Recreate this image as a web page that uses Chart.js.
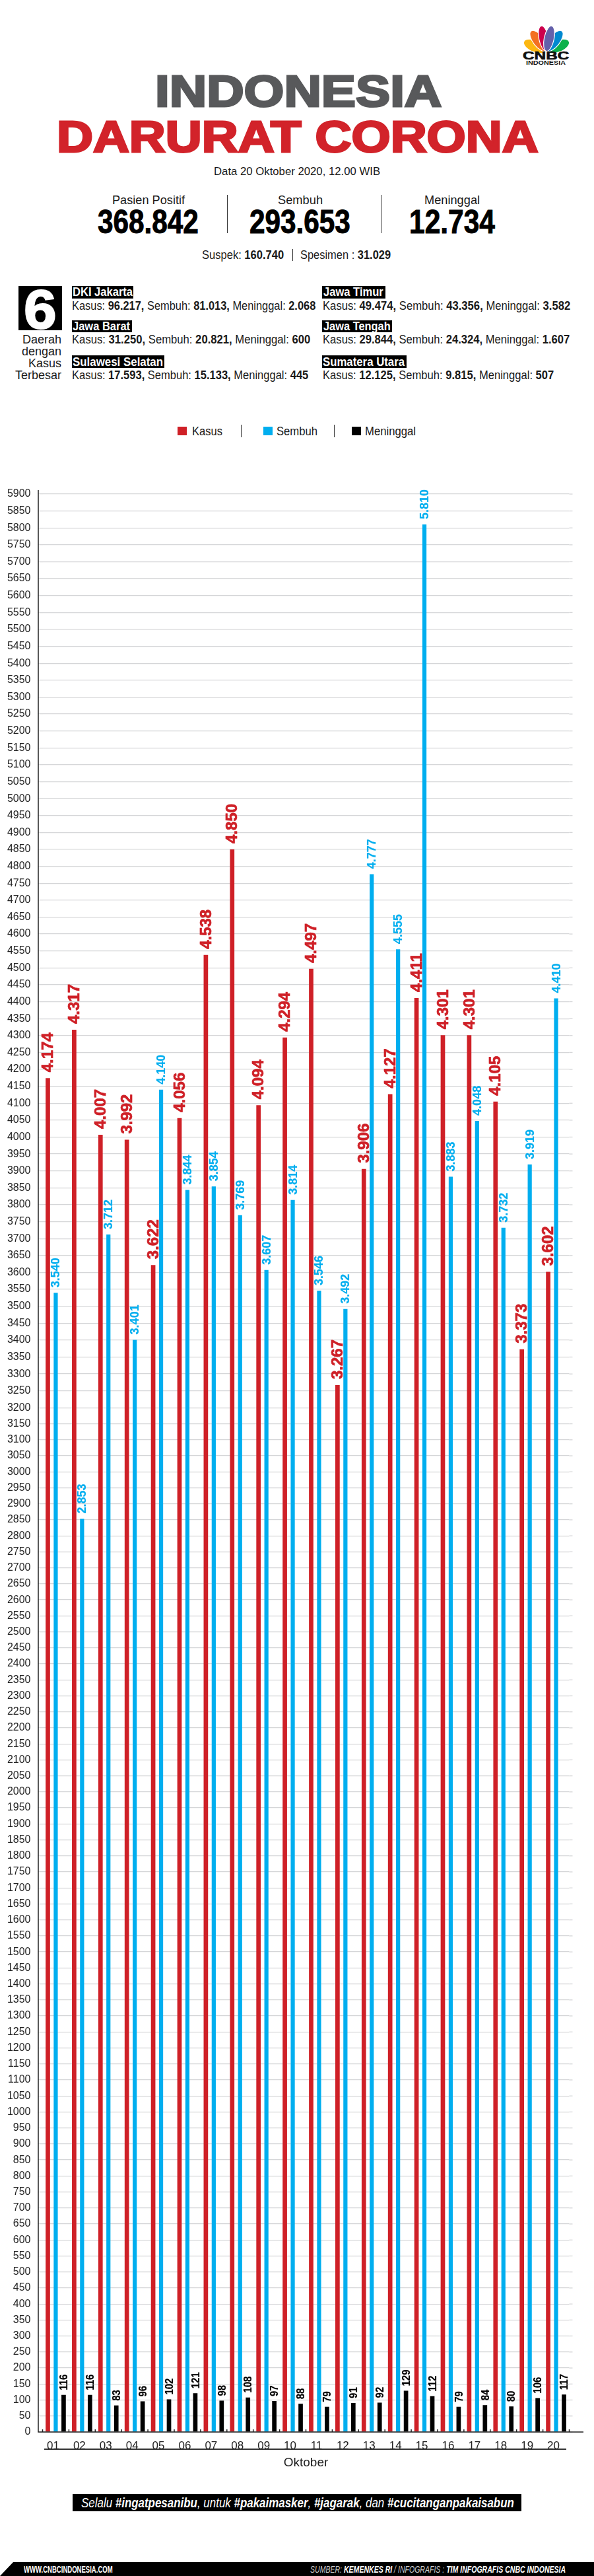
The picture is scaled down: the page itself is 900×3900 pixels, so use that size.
<!DOCTYPE html>
<html>
<head>
<meta charset="utf-8">
<title>Indonesia Darurat Corona</title>
<script src="https://cdn.jsdelivr.net/npm/chart.js@4/dist/chart.umd.js"></script>
<style>
  html, body { margin: 0; padding: 0; background: #fff; }
  #page { position: relative; width: 900px; height: 3900px; overflow: hidden; font-family: "Liberation Sans Narrow", "Liberation Sans", sans-serif; color: #1a1a1a; }
  .t { position: absolute; line-height: 0; white-space: nowrap; transform-origin: left center; }
  .box { position: absolute; background: #000; }
  .rule { position: absolute; background: #333; }
  .hd { font-family: "Liberation Sans", sans-serif; font-weight: 700; }
  .tag { color: #fff; font-weight: 700; }
  canvas { position: absolute; left: 0; top: 700px; }
</style>
</head>
<body>
<div id="page">

  <!-- logo -->
  <svg style="position:absolute;left:0;top:0" width="900" height="100">
    <g stroke="#fff" stroke-width="1.2">
      <ellipse cx="828" cy="58.5" rx="9" ry="18.5" fill="#fcb711" transform="rotate(-68 828 77)"/>
      <ellipse cx="828" cy="58.5" rx="9" ry="18.5" fill="#0db14b" transform="rotate(68 828 77)"/>
      <ellipse cx="828" cy="58" rx="8.5" ry="19" fill="#f37021" transform="rotate(-38 828 77)"/>
      <ellipse cx="828" cy="58" rx="8.5" ry="19" fill="#0089d0" transform="rotate(38 828 77)"/>
      <ellipse cx="828" cy="58" rx="7.5" ry="19.5" fill="#cc004c" transform="rotate(-12 828 77)"/>
      <ellipse cx="828" cy="58" rx="7.5" ry="19.5" fill="#6460aa" transform="rotate(12 828 77)"/>
    </g>
  </svg>
  <div class="t hd" style="left:792px;top:85px;font-size:16px;color:#111;-webkit-text-stroke:.6px #111" data-w="70">CNBC</div>
  <div class="t hd" style="left:797px;top:95px;font-size:9px;color:#111" data-w="60">INDONESIA</div>

  <!-- heading -->
  <div class="t hd" style="left:235px;top:138px;font-size:67px;color:#58595b;-webkit-text-stroke:3px #58595b" data-w="434">INDONESIA</div>
  <div class="t hd" style="left:86px;top:207px;font-size:67px;color:#d2232a;-webkit-text-stroke:3px #d2232a" data-w="730">DARURAT CORONA</div>
  <div class="t" style="left:324px;top:260px;font-size:17px" data-w="252">Data 20 Oktober 2020, 12.00 WIB</div>

  <!-- totals -->
  <div class="t" style="left:170px;top:303px;font-size:18px" data-w="110">Pasien Positif</div>
  <div class="t" style="left:421px;top:303px;font-size:18px" data-w="68">Sembuh</div>
  <div class="t" style="left:643px;top:303px;font-size:18px" data-w="84">Meninggal</div>
  <div class="t" style="left:148px;top:336px;font-size:50px;font-weight:700;color:#000;-webkit-text-stroke:1px #000" data-w="153">368.842</div>
  <div class="t" style="left:378px;top:336px;font-size:50px;font-weight:700;color:#000;-webkit-text-stroke:1px #000" data-w="153">293.653</div>
  <div class="t" style="left:620px;top:336px;font-size:50px;font-weight:700;color:#000;-webkit-text-stroke:1px #000" data-w="130">12.734</div>
  <div class="rule" style="left:344px;top:295px;width:1px;height:58px"></div>
  <div class="rule" style="left:577px;top:295px;width:1px;height:58px"></div>
  <div class="t" style="left:306px;top:386px;font-size:18px" data-w="124">Suspek: <b>160.740</b></div>
  <div class="rule" style="left:443px;top:377px;width:1px;height:18px"></div>
  <div class="t" style="left:455px;top:386px;font-size:18px" data-w="137">Spesimen : <b>31.029</b></div>

  <!-- six regions -->
  <div class="box" style="left:28px;top:433px;width:66px;height:67px"></div>
  <div class="t hd" style="left:36px;top:468px;font-size:84px;color:#fff;-webkit-text-stroke:2px #fff" data-w="50">6</div>
  <div class="t" style="right:807px;top:514px;font-size:18px">Daerah</div>
  <div class="t" style="right:807px;top:532px;font-size:18px">dengan</div>
  <div class="t" style="right:807px;top:550px;font-size:18px">Kasus</div>
  <div class="t" style="right:807px;top:568px;font-size:18px">Terbesar</div>

  <div class="box" style="left:109px;top:433px;width:93px;height:19px"></div>
  <div class="t tag" style="left:110px;top:442px;font-size:18px" data-w="91">DKI Jakarta</div>
  <div class="t" style="left:109px;top:463px;font-size:18px" data-w="369">Kasus: <b>96.217,</b> Sembuh: <b>81.013,</b> Meninggal: <b>2.068</b></div>
  <div class="box" style="left:109px;top:485px;width:91px;height:18px"></div>
  <div class="t tag" style="left:110px;top:494px;font-size:18px" data-w="87">Jawa Barat</div>
  <div class="t" style="left:109px;top:514px;font-size:18px" data-w="361">Kasus: <b>31.250,</b> Sembuh: <b>20.821,</b> Meninggal: <b>600</b></div>
  <div class="box" style="left:109px;top:538px;width:140px;height:19px"></div>
  <div class="t tag" style="left:110px;top:548px;font-size:18px" data-w="137">Sulawesi Selatan</div>
  <div class="t" style="left:109px;top:568px;font-size:18px" data-w="358">Kasus: <b>17.593,</b> Sembuh: <b>15.133,</b> Meninggal: <b>445</b></div>

  <div class="box" style="left:488px;top:433px;width:96px;height:19px"></div>
  <div class="t tag" style="left:490px;top:442px;font-size:18px" data-w="91">Jawa Timur</div>
  <div class="t" style="left:489px;top:463px;font-size:18px" data-w="375">Kasus: <b>49.474,</b> Sembuh: <b>43.356,</b> Meninggal: <b>3.582</b></div>
  <div class="box" style="left:488px;top:485px;width:106px;height:18px"></div>
  <div class="t tag" style="left:490px;top:494px;font-size:18px" data-w="102">Jawa Tengah</div>
  <div class="t" style="left:489px;top:514px;font-size:18px" data-w="374">Kasus: <b>29.844,</b> Sembuh: <b>24.324,</b> Meninggal: <b>1.607</b></div>
  <div class="box" style="left:488px;top:538px;width:128px;height:19px"></div>
  <div class="t tag" style="left:489px;top:548px;font-size:18px" data-w="124">Sumatera Utara</div>
  <div class="t" style="left:489px;top:568px;font-size:18px" data-w="350">Kasus: <b>12.125,</b> Sembuh: <b>9.815,</b> Meninggal: <b>507</b></div>

  <!-- legend -->
  <div class="box" style="left:269px;top:646px;width:14px;height:13px;background:#cf2027"></div>
  <div class="t" style="left:291px;top:653px;font-size:18px" data-w="46">Kasus</div>
  <div class="rule" style="left:365px;top:643px;width:1px;height:19px"></div>
  <div class="box" style="left:399px;top:646px;width:14px;height:13px;background:#00aeef"></div>
  <div class="t" style="left:419px;top:653px;font-size:18px" data-w="62">Sembuh</div>
  <div class="rule" style="left:506px;top:643px;width:1px;height:19px"></div>
  <div class="box" style="left:533px;top:646px;width:14px;height:13px"></div>
  <div class="t" style="left:553px;top:653px;font-size:18px" data-w="77">Meninggal</div>

  <canvas id="chart" width="900" height="3040"></canvas>

  <div class="rule" style="left:67px;top:3707px;width:791px;height:2px"></div>

  <!-- slogan -->
  <div class="box" style="left:110px;top:3776px;width:680px;height:26px"></div>
  <div class="t" style="left:123px;top:3789px;font-size:20px;font-style:italic;color:#fff" data-w="656">Selalu <b>#ingatpesanibu</b>, untuk <b>#pakaimasker</b>, <b>#jagarak</b>, dan <b>#cucitanganpakaisabun</b></div>

  <!-- footer -->
  <div class="box" style="left:0;top:3879px;width:900px;height:21px;clip-path:polygon(20px 0,100% 0,100% 100%,0 100%)"></div>
  <div class="t" style="left:36px;top:3890px;font-size:14px;font-weight:700;color:#fff" data-w="135">WWW.CNBCINDONESIA.COM</div>
  <div class="t" style="left:470px;top:3890px;font-size:14px;font-style:italic;color:#ccc" data-w="387">SUMBER: <b style="color:#fff">KEMENKES RI</b> / INFOGRAFIS : <b style="color:#fff">TIM INFOGRAFIS CNBC INDONESIA</b></div>
</div>

<script>
var days = ['01','02','03','04','05','06','07','08','09','10','11','12','13','14','15','16','17','18','19','20'];
var kasus = [4174,4317,4007,3992,3622,4056,4538,4850,4094,4294,4497,3267,3906,4127,4411,4301,4301,4105,3373,3602];
var sembuh = [3540,2853,3712,3401,4140,3844,3854,3769,3607,3814,3546,3492,4777,4555,5810,3883,4048,3732,3919,4410];
var meninggal = [116,116,83,96,102,121,98,108,97,88,79,91,92,129,112,79,84,80,106,117];

var narrow = '"Liberation Sans Narrow", "Liberation Sans", sans-serif';

// squeeze the header texts to the width they have in the picture
document.querySelectorAll('.t[data-w]').forEach(function (el) {
	el.style.transform = 'scaleX(' + (el.dataset.w / el.offsetWidth) + ')';
});

// the printed axis is not quite even: 50 units are wider above 3200 than below
class KinkedScale extends Chart.LinearScale {
	static id = 'kinked';
	static defaults = Chart.LinearScale.defaults;
	getPixelForValue(value) {
		var f = value <= 3200 ? value / 3200 * 0.5285 : 0.5285 + (value - 3200) / 2700 * 0.4715;
		return this.bottom - f * (this.bottom - this.top);
	}
	getValueForPixel(pixel) {
		var f = (this.bottom - pixel) / (this.bottom - this.top);
		return f <= 0.5285 ? f / 0.5285 * 3200 : 3200 + (f - 0.5285) / 0.4715 * 2700;
	}
}
Chart.register(KinkedScale);

// rotated value above every bar
var barLabels = {
	id: 'barLabels',
	afterDatasetsDraw: function (chart) {
		var ctx = chart.ctx;
		chart.data.datasets.forEach(function (ds, i) {
			var st = ds.labelStyle;
			chart.getDatasetMeta(i).data.forEach(function (bar, j) {
				var text = ds.data[j] >= 1000 ? String(ds.data[j]).replace(/(\d)(\d{3})$/, '$1.$2') : String(ds.data[j]);
				ctx.save();
				ctx.translate(bar.x, bar.y - st.gap);
				ctx.rotate(-Math.PI / 2);
				ctx.font = st.font;
				ctx.fillStyle = ds.backgroundColor;
				ctx.strokeStyle = ds.backgroundColor;
				ctx.lineWidth = st.weight;
				ctx.textAlign = 'left';
				ctx.textBaseline = 'middle';
				ctx.scale(st.stretch, 1);
				ctx.fillText(text, 0, 1);
				ctx.strokeText(text, 0, 1);
				ctx.restore();
			});
		});
	}
};

// axis lines and gridline ends that reach past the category band
var axisLines = {
	id: 'axisLines',
	beforeDatasetsDraw: function (chart) {
		var ctx = chart.ctx, a = chart.chartArea, y = chart.scales.y;
		ctx.save();
		ctx.strokeStyle = '#d5d6d8';
		ctx.lineWidth = 1.3;
		y.ticks.forEach(function (t, i) {
			var p = y.getPixelForTick(i);
			ctx.beginPath();
			ctx.moveTo(a.right, p);
			ctx.lineTo(a.right + 5, p);
			ctx.stroke();
		});
		ctx.restore();
	},
	afterDatasetsDraw: function (chart) {
		var ctx = chart.ctx, a = chart.chartArea, x = chart.scales.x;
		ctx.save();
		ctx.strokeStyle = '#222';
		ctx.lineWidth = 1.5;
		ctx.beginPath();
		ctx.moveTo(58, a.top - 6);
		ctx.lineTo(58, a.bottom);
		ctx.lineTo(884, a.bottom);
		for (var i = 0; i <= days.length; i++) {
			var p = x.getPixelForTick(0) + (i - 0.5) * (x.getPixelForTick(1) - x.getPixelForTick(0));
			ctx.moveTo(p, a.bottom);
			ctx.lineTo(p, a.bottom - 4);
		}
		ctx.stroke();
		ctx.restore();
	}
};

new Chart(document.getElementById('chart'), {
	type: 'bar',
	data: {
		labels: days,
		datasets: [
			{ label: 'Kasus', data: kasus, backgroundColor: '#cf2027', barPercentage: 0.56,
				labelStyle: { font: 'bold 24px ' + narrow, stretch: 1, gap: 9, weight: 0.7 } },
			{ label: 'Sembuh', data: sembuh, backgroundColor: '#00aeef', barPercentage: 0.52,
				labelStyle: { font: 'bold 18px ' + narrow, stretch: 1, gap: 8, weight: 0.2 } },
			{ label: 'Meninggal', data: meninggal, backgroundColor: '#000000', barPercentage: 0.56,
				labelStyle: { font: 'bold 17px "Liberation Sans", sans-serif', stretch: 0.88, gap: 7, weight: 0.2 } }
		]
	},
	options: {
		responsive: false,
		animation: false,
		layout: { padding: { top: 48, right: 37.5 } },
		plugins: { legend: { display: false }, tooltip: { enabled: false } },
		datasets: { bar: { categoryPercentage: 0.9 } },
		scales: {
			x: {
				grid: { display: false },
				border: { display: false },
				afterFit: function (s) { s.height = 58; },
				ticks: { color: '#222', font: { family: narrow, size: 17 }, maxRotation: 0, autoSkip: false, padding: 3, labelOffset: -4 },
				title: { display: true, text: 'Oktober', color: '#222', font: { family: narrow, size: 19 }, padding: 0 }
			},
			y: {
				type: 'kinked',
				min: 0,
				max: 5900,
				afterFit: function (s) { s.width = 64.5; },
				border: { display: false },
				grid: { color: '#d5d6d8', lineWidth: 1.3, tickLength: 7 },
				ticks: {
					stepSize: 50,
					autoSkip: false,
					color: '#222',
					padding: 11,
					font: { family: '"Liberation Sans", sans-serif', size: 16 },
					callback: function (v) { return String(v); }
				}
			}
		}
	},
	plugins: [axisLines, barLabels]
});
</script>
</body>
</html>
